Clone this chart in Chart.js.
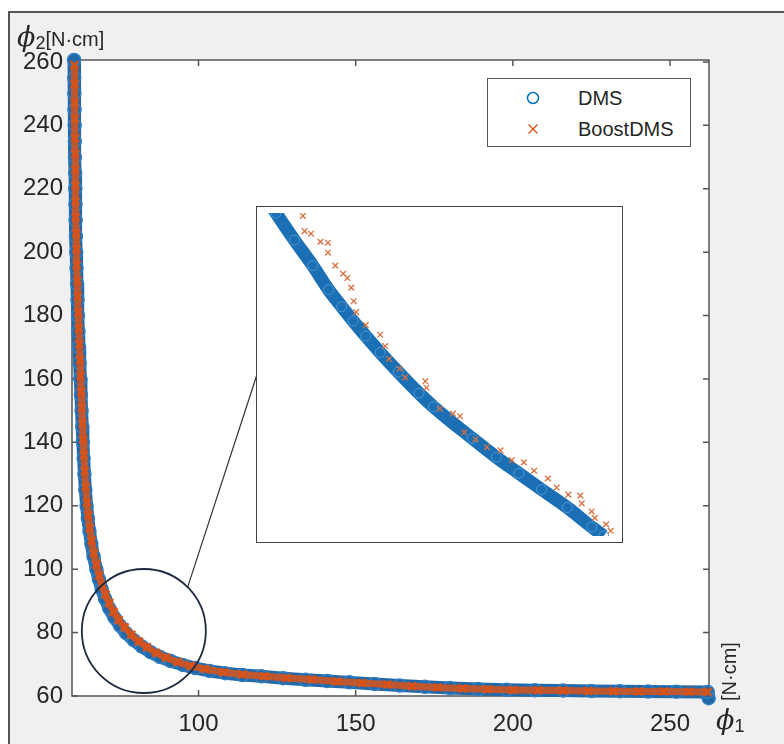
<!DOCTYPE html>
<html lang="en">
<head>
    <meta charset="UTF-8">
    <title>DMS vs BoostDMS</title>
    <script src="https://cdn.jsdelivr.net/npm/chart.js"></script>
    <style>
        body {
            margin: 0;
            background: #fff;
            font-family: "Liberation Sans", Arial, sans-serif;
        }
        #wrap {
            position: relative;
            width: 784px;
            height: 744px;
            overflow: hidden;
        }
        .frame {
            position: absolute;
            left: 8px;
            top: 11px;
            right: -4px;
            bottom: -4px;
            background: #f0f0f0;
            border-left: 2px solid #555;
            border-top: 2px solid #555;
        }
        #main {
            position: absolute;
            left: 0;
            top: 0;
        }
        #insetBox {
            position: absolute;
            left: 256px;
            top: 206px;
            width: 365px;
            height: 335px;
            border: 1.5px solid #444;
            background: #fff;
        }
        #legend {
            position: absolute;
            left: 487px;
            top: 78px;
            width: 202px;
            height: 67px;
            border: 1.5px solid #555;
            background: #fff;
            font-size: 20px;
            color: #262626;
        }
        #legend .row {
            position: absolute;
            left: 0;
            height: 24px;
            line-height: 24px;
        }
        #legend svg {
            position: absolute;
            left: 37px;
            top: 4px;
        }
        #legend span {
            position: absolute;
            left: 90px;
        }
        .lab {
            position: absolute;
            color: #262626;
            white-space: nowrap;
        }
        .phi {
            font-family: "DejaVu Serif", serif;
            font-style: italic;
            font-size: 27px;
        }
        .sub {
            font-size: 18px;
            position: relative;
            top: 3px;
        }
        .unit {
            font-size: 20px;
        }
    </style>
</head>
<body>
<div id="wrap">
    <div class="frame"></div>
    <canvas id="main" width="784" height="744"></canvas>
    <div id="insetBox"><canvas id="inset" width="365" height="335"></canvas></div>
    <div id="legend">
        <div class="row" style="top:7px; width:200px">
            <svg width="16" height="16"><circle cx="8" cy="8" r="5.5" fill="none" stroke="#0072BD" stroke-width="1.5"/></svg>
            <span>DMS</span>
        </div>
        <div class="row" style="top:38px; width:200px">
            <svg width="16" height="16"><path d="M3.5 3.5 L12.5 12.5 M12.5 3.5 L3.5 12.5" stroke="#D95319" stroke-width="1.4"/></svg>
            <span>BoostDMS</span>
        </div>
    </div>
    <div class="lab" style="left:17px; top:21px"><span class="phi">ϕ</span><span class="sub">2</span><span class="unit">[N·cm]</span></div>
    <div class="lab" style="left:716px; top:704px"><span class="phi">ϕ</span><span class="sub">1</span></div>
    <div class="lab unit" style="left:700px; top:660px; transform: rotate(-90deg); transform-origin: center;">[N·cm]</div>
</div>

<script>
    // main plot values
    const dmsX = [60.4, 60.45, 60.5, 60.55, 60.6, 60.65, 60.7, 60.75, 60.8, 60.85,
        60.9, 61.0, 61.1, 61.2, 61.35, 61.5, 61.65, 61.8, 62.0, 62.2,
        62.4, 62.6, 62.8, 63.0, 63.2, 63.45, 63.7, 64.0, 64.4, 64.8,
        65.3, 65.9, 66.6, 67.5, 68.3, 69.2, 70.3, 71.6, 73.2, 75.0,
        77.0, 79.4, 82.0, 84.8, 87.8, 91.2, 95.0, 99.0, 103.5, 108.5,
        114, 120, 127, 134, 141, 148, 156, 164, 172, 180,
        189, 198, 207, 216, 225, 234, 243, 252, 262, 262.3];
    const dmsY = [260.6, 255, 250, 245, 240, 235, 230, 225, 220, 215,
        210, 205, 200, 195, 190, 185, 180, 175, 170, 165,
        160, 155, 150, 145, 140, 135, 130, 125, 120, 116,
        112, 108, 104, 100, 96.8, 93.7, 90.6, 87.6, 84.8, 82.2,
        79.8, 77.6, 75.6, 73.8, 72.3, 71.0, 69.8, 68.8, 67.9, 67.2,
        66.6, 66.2, 65.6, 65.1, 64.7, 64.3, 63.8, 63.3, 62.9, 62.5,
        62.2, 62.0, 61.8, 61.7, 61.6, 61.5, 61.4, 61.35, 61.3, 59.3];

    const boostX = [60.5, 60.55, 60.6, 60.65, 60.7, 60.75, 60.8, 60.85, 60.9, 60.95,
        61.05, 61.15, 61.25, 61.4, 61.55, 61.7, 61.9, 62.1, 62.3, 62.5,
        62.7, 62.9, 63.1, 63.3, 63.55, 63.8, 64.1, 64.5, 64.9, 65.4,
        66.0, 66.7, 67.5, 68.4, 69.3, 70.4, 71.6, 73.0, 74.6, 76.5,
        78.6, 81.0, 83.6, 86.5, 89.7, 93.3, 97.5, 102, 108, 114,
        121, 128, 136, 144, 152, 160, 168, 176, 184, 192,
        200, 208, 216, 224, 232, 240, 248, 256, 262];
    const boostY = [259, 253, 247, 242, 236, 231, 226, 221, 216, 211,
        206, 201, 196, 191, 186, 181, 176, 171, 166, 161,
        156, 151, 146, 141, 136, 131, 126, 121, 117, 113,
        109, 105, 101.5, 98, 95, 92, 89.3, 86.5, 84, 81.7,
        79.3, 77.2, 75.4, 73.6, 72.1, 70.7, 69.5, 68.5, 67.5, 66.8,
        66.2, 65.7, 65.2, 64.6, 64.1, 63.6, 63.1, 62.7, 62.4, 62.1,
        61.9, 61.8, 61.7, 61.6, 61.5, 61.45, 61.4, 61.35, 61.3];

    const xTicks = [100, 150, 200, 250];
    const yTicks = [60, 80, 100, 120, 140, 160, 180, 200, 220, 240, 260];

    // zoomed inset (relative units, 0..100 across the box)
    const insetDmsX = [2.0, 3.7, 8.9, 14.1, 18.6, 22.3, 25.5, 29.1, 33.2, 38.3,
        44.2, 48.3, 59.3, 66.1, 72.5, 78.9, 86.2, 93.1, 96.5];
    const insetDmsY = [103, 100, 91.6, 83.7, 76.2, 71.0, 66.6, 61.9, 56.8, 50.8,
        44.2, 40.0, 30.2, 24.4, 19.4, 14.4, 8.8, 2.8, 0];
    const insetBoostX = [11.3, 11.8, 13.6, 16.3, 18.4, 18.4, 20.5, 22.7, 23.9, 25.0,
        25.7, 26.4, 29.1, 33.2, 34.6, 35.7, 38.7, 40.3, 46.0, 46.3,
        50.1, 53.8, 55.8, 57.0, 60.2, 63.4, 67.3, 70.5, 73.9, 76.8,
        80.7, 83.2, 86.5, 89.9, 90.3, 93.1, 94.0, 97.2, 98.5];
    const insetBoostY = [99.1, 94.4, 93.6, 91.1, 90.8, 87.7, 83.7, 81.2, 79.9, 76.9,
        72.7, 69.3, 65.3, 62.3, 58.8, 54.8, 51.8, 49.1, 47.9, 45.9,
        39.4, 37.9, 37.1, 32.1, 29.9, 27.5, 26.5, 23.5, 22.8, 20.2,
        17.8, 15.0, 12.8, 12.5, 10.1, 7.6, 5.6, 3.6, 1.6];

    // zoom circle on the main plot, in data units
    const zoomCenter = [82.6, 80.5];
    const zoomRadiusPx = 62;

    const ORANGE = '#D95319';
    const AXIS = '#555555';
    const TEXT = '#262626';

    function pairs(xs, ys) {
        return xs.map((x, i) => ({ x: x, y: ys[i] }));
    }

    // white axes background, box and inward ticks (MATLAB style)
    const axesBox = {
        id: 'axesBox',
        beforeDatasetsDraw(chart) {
            const { ctx, chartArea: a, scales } = chart;
            ctx.save();
            ctx.fillStyle = '#fff';
            ctx.fillRect(a.left, a.top, a.right - a.left, a.bottom - a.top);
            ctx.strokeStyle = AXIS;
            ctx.lineWidth = 1.5;
            ctx.strokeRect(a.left, a.top, a.right - a.left, a.bottom - a.top);
            ctx.beginPath();
            xTicks.forEach(v => {
                const px = scales.x.getPixelForValue(v);
                ctx.moveTo(px, a.bottom); ctx.lineTo(px, a.bottom - 6);
                ctx.moveTo(px, a.top); ctx.lineTo(px, a.top + 6);
            });
            yTicks.forEach(v => {
                const py = scales.y.getPixelForValue(v);
                ctx.moveTo(a.left, py); ctx.lineTo(a.left + 6, py);
                ctx.moveTo(a.right, py); ctx.lineTo(a.right - 6, py);
            });
            ctx.stroke();
            ctx.restore();
        },
        afterDatasetsDraw(chart) {
            const { ctx, scales } = chart;
            const cx = scales.x.getPixelForValue(zoomCenter[0]);
            const cy = scales.y.getPixelForValue(zoomCenter[1]);
            const box = document.getElementById('insetBox');
            const ex = box.offsetLeft + 1;
            const ey = box.offsetTop + box.offsetHeight * 0.5;
            const ang = -Math.PI / 4;
            ctx.save();
            ctx.strokeStyle = '#1e2a40';
            ctx.lineWidth = 1.8;
            ctx.beginPath();
            ctx.arc(cx, cy, zoomRadiusPx, 0, Math.PI * 2);
            ctx.stroke();
            ctx.lineWidth = 1.2;
            ctx.strokeStyle = '#333';
            ctx.beginPath();
            ctx.moveTo(cx + zoomRadiusPx * Math.cos(ang), cy + zoomRadiusPx * Math.sin(ang));
            ctx.lineTo(ex, ey);
            ctx.stroke();
            ctx.restore();
        }
    };

    const tickFont = { family: '"Liberation Sans", Arial, sans-serif', size: 24 };

    new Chart(document.getElementById('main'), {
        type: 'scatter',
        data: {
            datasets: [{
                label: 'DMS',
                order: 2,
                data: pairs(dmsX, dmsY),
                showLine: true,
                borderColor: '#2368a8',
                borderWidth: 13,
                borderCapStyle: 'round',
                borderJoinStyle: 'round',
                pointStyle: 'circle',
                pointRadius: 6.5,
                pointBorderColor: '#2f7fc4',
                pointBackgroundColor: 'rgba(0,0,0,0)',
                pointBorderWidth: 1.5,
                clip: false
            }, {
                label: 'BoostDMS',
                order: 1,
                data: pairs(boostX, boostY),
                showLine: true,
                borderColor: 'rgba(217,83,25,0.85)',
                borderWidth: 7,
                pointStyle: 'crossRot',
                pointRadius: 5.5,
                pointBorderColor: ORANGE,
                pointBorderWidth: 2.5,
                clip: false
            }]
        },
        options: {
            responsive: false,
            animation: false,
            events: [],
            layout: { padding: { left: 0, top: 60, right: 75, bottom: 0 } },
            plugins: { legend: { display: false }, tooltip: { enabled: false } },
            scales: {
                x: {
                    type: 'linear',
                    min: 59.75,
                    max: 262.4,
                    afterBuildTicks: s => { s.ticks = xTicks.map(v => ({ value: v })); },
                    afterFit: s => { s.height = 48; },
                    grid: { display: false, drawTicks: false },
                    border: { display: false },
                    ticks: { font: tickFont, color: TEXT, padding: 14, maxRotation: 0 }
                },
                y: {
                    type: 'linear',
                    min: 60,
                    max: 260.6,
                    afterBuildTicks: s => { s.ticks = yTicks.map(v => ({ value: v })); },
                    afterFit: s => { s.width = 72; },
                    grid: { display: false, drawTicks: false },
                    border: { display: false },
                    ticks: { font: tickFont, color: TEXT, padding: 9 }
                }
            }
        },
        plugins: [axesBox]
    });

    new Chart(document.getElementById('inset'), {
        type: 'scatter',
        data: {
            datasets: [{
                label: 'DMS',
                order: 2,
                data: pairs(insetDmsX, insetDmsY),
                showLine: true,
                cubicInterpolationMode: 'monotone',
                borderColor: '#1a6fb5',
                borderWidth: 13,
                pointStyle: 'circle',
                pointRadius: 5,
                pointBorderColor: '#4d97d3',
                pointBackgroundColor: 'rgba(0,0,0,0)',
                pointBorderWidth: 1
            }, {
                label: 'BoostDMS',
                order: 1,
                data: pairs(insetBoostX, insetBoostY),
                showLine: false,
                pointStyle: 'crossRot',
                pointRadius: 4,
                pointBorderColor: '#d9703f',
                pointBorderWidth: 1.3
            }]
        },
        options: {
            responsive: false,
            animation: false,
            events: [],
            layout: { padding: 0 },
            plugins: { legend: { display: false }, tooltip: { enabled: false } },
            scales: {
                x: { type: 'linear', min: 0, max: 100, display: false },
                y: { type: 'linear', min: 0, max: 100, display: false }
            }
        }
    });
</script>
</body>
</html>
